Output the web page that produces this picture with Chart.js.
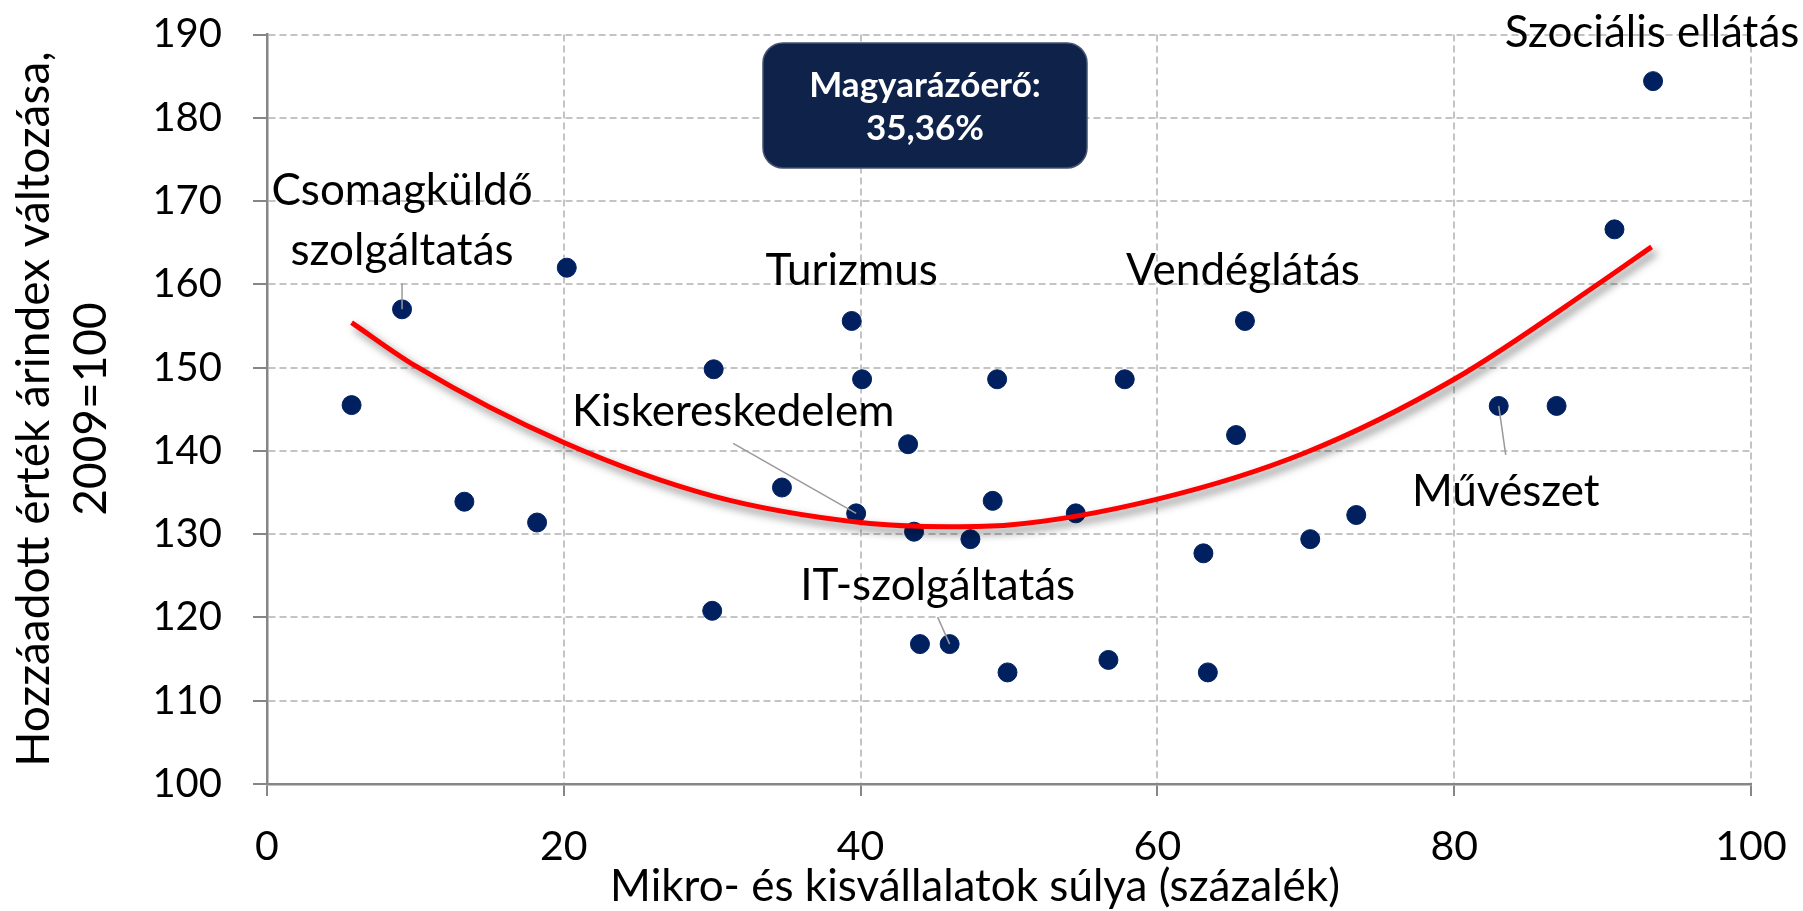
<!DOCTYPE html>
<html>
<head>
<meta charset="utf-8">
<script src="https://cdn.jsdelivr.net/npm/chart.js@4.4.1/dist/chart.umd.min.js"></script>
<style>
  html, body { margin: 0; padding: 0; background: #fff; }
  #wrap { width: 1803px; height: 911px; position: relative; }
</style>
</head>
<body>
<div id="wrap"><canvas id="chart"></canvas></div>
<script>
// mikro- és kisvállalatok súlya (%) és hozzáadott érték árindex (2009=100), ágazatonként
const smallFirmShare = [5.7, 9.1, 13.3, 18.2, 20.2, 30.1, 30.0, 34.7, 39.4, 39.7, 40.1, 43.2, 43.6, 44.0, 46.0, 47.4,
  48.9, 49.2, 49.9, 54.5, 56.7, 57.8, 63.1, 63.4, 65.3, 65.9, 70.3, 73.4, 83.0, 86.9, 90.8, 93.4]
const priceIndex = [145.5, 157.0, 133.9, 131.4, 162.0, 149.8, 120.8, 135.6, 155.6, 132.5, 148.6, 140.8, 130.3, 116.8, 116.8, 129.4,
  134.0, 148.6, 113.4, 132.5, 114.9, 148.6, 127.7, 113.4, 141.9, 155.6, 129.4, 132.3, 145.4, 145.4, 166.6, 184.4]

// másodfokú trendvonal
const trendX = [5.7, 10, 20, 30, 40, 46, 50, 60, 70, 80, 90, 93.3]
const trendY = [155.4, 150.2, 141.0, 134.6, 131.4, 130.9, 131.1, 134.2, 139.8, 148.6, 160.4, 164.5]

const xTickValues = [0, 20, 40, 60, 80, 100]
const yTickValues = [100, 110, 120, 130, 140, 150, 160, 170, 180, 190]

const explainedLabel = ['Magyarázóerő:', '35,36%']
const xTitle = 'Mikro- és kisvállalatok súlya (százalék)'
const yTitle = ['Hozzáadott érték árindex változása,', '2009=100']

// feliratok: melyik ponthoz tartoznak, és hova kerülnek (pixel eltolás)
const sectorLabels = [
    { index: 1, lines: ['Csomagküldő', 'szolgáltatás'], dx: 0, dy: [-104, -44], leader: [0, -26] },
    { index: 8, lines: ['Turizmus'], dx: 0, dy: [-36] },
    { index: 25, lines: ['Vendéglátás'], dx: -2, dy: [-36] },
    { index: 9, lines: ['Kiskereskedelem'], dx: -123, dy: [-87], leader: [-123, -70] },
    { index: 14, lines: ['IT-szolgáltatás'], dx: -12, dy: [-44], leader: [-12, -27] },
    { index: 28, lines: ['Művészet'], dx: 7, dy: [100], leader: [7, 49] },
    { index: 31, lines: ['Szociális ellátás'], dx: -1, dy: [-34] },
]

const FONT = 'Lato, "Open Sans", sans-serif'
const navy = '#002060'
const axisGray = '#868686'
const gridGray = '#C4C4C4'

const overlay = {
    id: 'overlay',
    beforeDatasetDraw(chart, args) {
        if (args.index === 0) {
            const c = chart.ctx
            c.save()
            c.shadowColor = 'rgba(0,0,0,0.5)'
            c.shadowBlur = 9
            c.shadowOffsetX = 4
            c.shadowOffsetY = 5
        }
    },
    afterDatasetDraw(chart, args) {
        if (args.index === 0) chart.ctx.restore()
    },
    afterDatasetsDraw(chart) {
        const c = chart.ctx
        const pts = chart.getDatasetMeta(1).data
        c.save()
        c.fillStyle = '#000'
        c.font = `44px ${FONT}`
        c.textAlign = 'center'
        c.textBaseline = 'alphabetic'
        sectorLabels.forEach((l) => {
            const p = pts[l.index]
            if (l.leader) {
                c.strokeStyle = '#9A9A9A'
                c.lineWidth = 1.5
                c.beginPath()
                c.moveTo(p.x + l.leader[0], p.y + l.leader[1])
                c.lineTo(p.x, p.y)
                c.stroke()
            }
            l.lines.forEach((t, i) => c.fillText(t, p.x + l.dx, p.y + l.dy[i]))
        })

        // magyarázóerő doboz
        c.fillStyle = '#0F2249'
        c.strokeStyle = '#44536F'
        c.lineWidth = 1.5
        c.beginPath()
        c.roundRect(763, 43, 324, 125, 20)
        c.fill()
        c.stroke()
        c.fillStyle = '#fff'
        c.font = `bold 35px ${FONT}`
        c.fillText(explainedLabel[0], 925, 97)
        c.fillText(explainedLabel[1], 925, 140)

        // tengelycímek
        c.fillStyle = '#000'
        c.font = `44px ${FONT}`
        c.fillText(xTitle, 975, 901)
        c.font = `46px ${FONT}`
        c.translate(49, 409)
        c.rotate(-Math.PI / 2)
        c.fillText(yTitle[0], 0, 0)
        c.fillText(yTitle[1], 0, 57)
        c.restore()
    },
}

const ctx = document.getElementById('chart').getContext('2d')
new Chart(ctx, {
    type: 'scatter',
    data: {
        datasets: [
            {
                data: trendX.map((x, i) => ({ x, y: trendY[i] })),
                showLine: true,
                borderColor: '#FF0000',
                borderWidth: 5,
                pointRadius: 0,
                cubicInterpolationMode: 'monotone',
                fill: false,
            },
            {
                data: smallFirmShare.map((x, i) => ({ x, y: priceIndex[i] })),
                backgroundColor: navy,
                borderColor: navy,
                pointRadius: 9.5,
                pointHoverRadius: 9.5,
            },
        ],
    },
    options: {
        responsive: true,
        maintainAspectRatio: false,
        animation: false,
        layout: { padding: { top: 34.5, right: 52, left: 0, bottom: 0 } },
        plugins: { legend: { display: false }, tooltip: { enabled: false } },
        scales: {
            x: {
                type: 'linear',
                min: 0,
                max: 100,
                afterBuildTicks: (s) => { s.ticks = xTickValues.map((value) => ({ value })) },
                afterFit: (s) => {
                    s.height = 127
                    s.paddingLeft = 0
                    s.paddingRight = 0
                },
                ticks: { font: { family: FONT, size: 41 }, color: '#000', padding: 26 },
                grid: { color: gridGray, lineWidth: 2, tickLength: 12, tickColor: axisGray, tickWidth: 2 },
                border: { color: axisGray, width: 2.5, dash: [7, 4] },
            },
            y: {
                type: 'linear',
                min: 100,
                max: 190,
                afterBuildTicks: (s) => { s.ticks = yTickValues.map((value) => ({ value })) },
                afterFit: (s) => {
                    s.width = 267
                    s.paddingTop = 0
                    s.paddingBottom = 0
                },
                ticks: { font: { family: FONT, size: 40 }, color: '#000', padding: 31 },
                grid: { color: gridGray, lineWidth: 2, tickLength: 14, tickColor: axisGray, tickWidth: 2 },
                border: { color: axisGray, width: 2.5, dash: [7, 4] },
            },
        },
    },
    plugins: [overlay],
})
</script>
</body>
</html>
